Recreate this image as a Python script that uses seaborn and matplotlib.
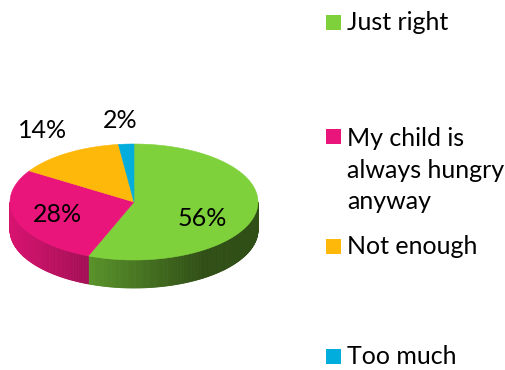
import numpy as np
import matplotlib
matplotlib.use("Agg")
import matplotlib.pyplot as plt
from matplotlib.patches import Polygon, Rectangle
from matplotlib.colors import to_rgb
import seaborn as sns

# Survey answers, clockwise from 12 o'clock
categories = ["Just right", "My child is\nalways hungry\nanyway", "Not enough", "Too much"]
shares = [56, 28, 14, 2]
slice_colors = ["#7FD13B", "#EA157A", "#FEB80A", "#00ADDC"]

sns.set_theme(style="white")
plt.rcParams["font.family"] = ["Lato", "DejaVu Sans"]
FS = 18

fig = plt.figure(figsize=(5.05, 3.70), dpi=100)
ax = fig.add_axes([0, 0, 1, 1])
ax.set_xlim(0, 505)
ax.set_ylim(370, 0)
ax.axis("off")

# Ellipse geometry of the tilted pie (pixel units, y grows downward)
cx, cy, rx, ry, depth = 134, 202, 124, 58, 28


def pt(theta_deg, dy=0.0):
    t = np.deg2rad(theta_deg)
    return cx + rx * np.cos(t), cy - ry * np.sin(t) + dy


def shade(theta_deg):
    u = np.cos(np.deg2rad(theta_deg))
    return float(np.clip(0.92 - 0.349 * (u + 1.0), 0.38, 1.0))


# slice angle spans, clockwise starting at 90 degrees
total = float(sum(shares))
bounds = [90.0]
for v in shares:
    bounds.append(bounds[-1] - 360.0 * v / total)

# extruded rim: only the front half (angles between -180 and 0) is visible
for i, col in enumerate(slice_colors):
    hi, lo = bounds[i], bounds[i + 1]
    a0, a1 = max(lo, -180.0), min(hi, 0.0)
    if a1 <= a0:
        continue
    base = np.array(to_rgb(col))
    steps = np.linspace(a1, a0, int(np.ceil((a1 - a0) / 0.75)) + 1)
    for s0, s1 in zip(steps[:-1], steps[1:]):
        c = base * shade((s0 + s1) / 2)
        quad = [pt(s0), pt(s1), pt(s1, depth), pt(s0, depth)]
        ax.add_patch(Polygon(quad, closed=True, facecolor=c, edgecolor=c,
                             linewidth=0.6))

# top face wedges
for i, col in enumerate(slice_colors):
    hi, lo = bounds[i], bounds[i + 1]
    arc = np.linspace(hi, lo, max(int(abs(hi - lo)), 2) + 1)
    verts = [(cx, cy)] + [pt(a) for a in arc]
    ax.add_patch(Polygon(verts, closed=True, facecolor=col, edgecolor=col,
                         linewidth=0.4))

# percentage labels
label_pos = [(202, 219), (57, 214), (43, 130), (120, 120)]
for v, (lx, ly) in zip(shares, label_pos):
    ax.text(lx, ly, f"{v}%", ha="center", va="center", fontsize=FS,
            color="black")

# legend
legend_y = [22, 170, 247, 357]
marker_y = [22.5, 136, 246, 356]
for name, col, ty, my in zip(categories, slice_colors, legend_y, marker_y):
    ax.add_patch(Rectangle((325.5, my - 7.5), 15, 15, facecolor=col,
                           edgecolor="none"))
    ax.text(347, ty, name, ha="left", va="center", fontsize=FS,
            color="black", linespacing=1.45)

fig.savefig("out.png", dpi=100)
